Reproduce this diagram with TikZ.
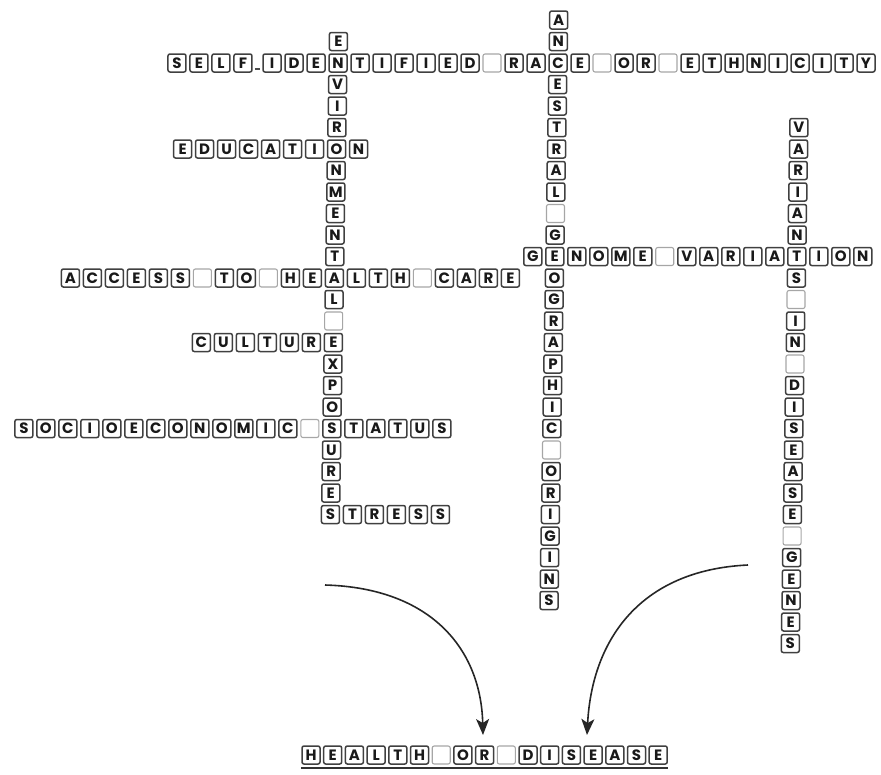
\documentclass[tikz,border=0pt]{standalone}
\usepackage{fontspec}
\newfontfamily\tilefont{Poppins}
\usetikzlibrary{arrows.meta}
\tikzset{
  tile/.style={draw=black!75, line width=1.5pt, rounded corners=2pt,
    minimum width=18pt, minimum height=18pt, inner sep=0pt,
    font=\tilefont\bfseries\fontsize{15}{15}\selectfont, text=black!90},
  blanktile/.style={tile, draw=black!35, line width=1.1pt},
  flow/.style={line width=1.6pt, draw=black!85,
    -{Stealth[length=16pt,width=13pt,inset=4pt]}},
  hyph/.style={line width=1.8pt, draw=black!70},
  uline/.style={line width=1.8pt, draw=black!80},
}
% name, x, y, letter  (+ = crossing, skip; * = blank tile)
\newcommand{\tileat}[4]{%
  \if+#4\relax\else
    \if*#4\node[blanktile] (#1) at (#2,#3) {};%
    \else\node[tile] (#1) at (#2,#3) {#4};\fi
  \fi}
% horizontal word: name, start col, row, letters
\newcommand{\hword}[4]{%
  \foreach \l [count=\i from 0] in {#4}{%
    \tileat{#1-\i}{{338+22*(#2+\i)-0.36*(#3)}}{{63+21.5*(#3)}}{\l}}}
% vertical word: name, col, start row, letters
\newcommand{\vword}[4]{%
  \foreach \l [count=\i from 0] in {#4}{%
    \tileat{#1-\i}{{338+22*(#2)-0.36*(#3+\i)}}{{63+21.5*(#3+\i)}}{\l}}}
\begin{document}
\begin{tikzpicture}[x=1pt,y=-1pt]
\useasboundingbox (0,0) rectangle (881,774);
% vertical columns
\vword{env}{0}{-1}{E,N,V,I,R,O,N,M,E,N,T,A,L,*,E,X,P,O,S,U,R,E,S}
\vword{anc}{10}{-2}{A,N,C,E,S,T,R,A,L,*,G,E,O,G,R,A,P,H,I,C,*,O,R,I,G,I,N,S}
\vword{var}{21}{3}{V,A,R,I,A,N,T,S,*,I,N,*,D,I,S,E,A,S,E,*,G,E,N,E,S}
% horizontal rows
\hword{selfa}{-7.32}{0}{S,E,L,F}
\hword{selfb}{-3}{0}{I,D,E,+,T,I,F,I,E,D,*,R,A,+,E,*,O,R,*,E,T,H,N,I,C,I,T,Y}
\draw[hyph] ({338+22*(-3.66)-2.5},69) -- ++(5,0);
\hword{edu}{-7}{4}{E,D,U,C,A,T,I,+,N}
\hword{gen}{9}{9}{G,+,N,O,M,E,*,V,A,R,I,A,+,I,O,N}
\hword{acc}{-12}{10}{A,C,C,E,S,S,*,T,O,*,H,E,+,L,T,H,*,C,A,R,E}
\hword{cul}{-6}{13}{C,U,L,T,U,R,+}
\hword{soc}{-14}{17}{S,O,C,I,O,E,C,O,N,O,M,I,C,*,+,T,A,T,U,S}
\hword{str}{0}{21}{+,T,R,E,S,S}
% outcome label
\foreach \l [count=\i from 0] in {H,E,A,L,T,H,*,O,R,*,D,I,S,E,A,S,E}{%
  \tileat{hl-\i}{{311+21.7*\i}}{755}{\l}}
\draw[uline] ([yshift=-3pt]hl-0.south west) -- ([yshift=-3pt]hl-16.south east);
% arrows
\coordinate (ls) at (325,585);
\coordinate (lt) at (483,735);
\coordinate (rs) at (748,565);
\coordinate (rt) at (587,735);
\draw[flow] (ls) .. controls (432,588) and (481,650) .. (lt);
\draw[flow] (rs) .. controls (640,570) and (592,640) .. (rt);
\end{tikzpicture}
\end{document}
